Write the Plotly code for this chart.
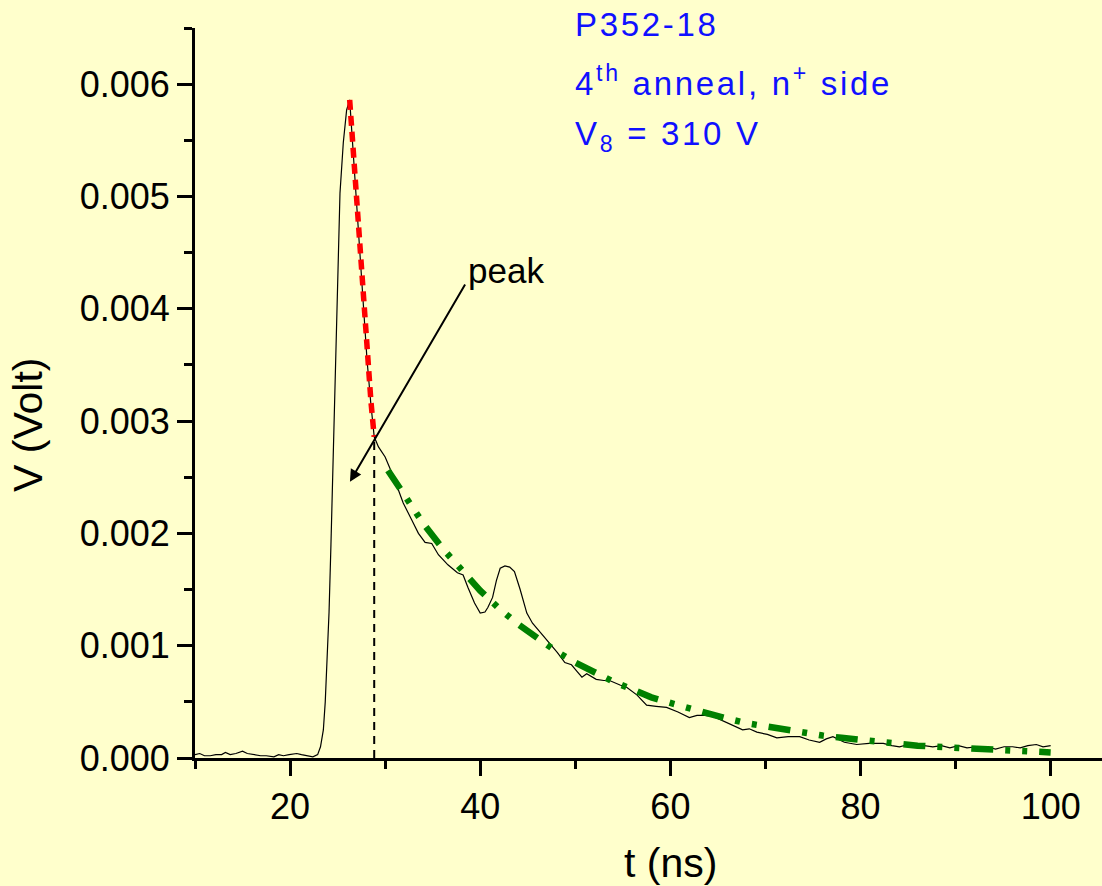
import plotly.graph_objects as go

# Measured signal (t in ns, V in Volt)
t_signal = [10.0, 10.5, 11.0, 11.6, 12.2, 12.8, 13.2, 13.7, 14.3, 15.0, 15.5, 16.2, 16.9, 17.5,
            18.3, 18.8, 19.3, 19.9, 20.7, 21.2, 21.7, 22.4, 22.9, 23.2, 23.5, 23.7, 23.9, 24.1,
            24.3, 24.48, 24.75, 25.0, 25.25, 25.6, 25.95, 26.27, 26.7, 27.1, 27.45, 27.8, 28.1,
            28.5, 28.85, 29.3, 30.0, 30.9, 31.9, 32.8, 33.5, 34.2, 34.9, 35.6, 36.6, 37.6, 38.2,
            38.7, 39.4, 40.0, 40.5, 40.8, 41.3, 41.7, 42.1, 42.6, 43.1, 43.6, 44.2, 44.9, 45.5,
            46.1, 46.7, 47.3, 48.1, 48.9, 49.6, 50.2, 50.7, 51.2, 52.2, 53.0, 53.6, 54.7, 55.4,
            56.5, 57.5, 58.5, 59.6, 60.8, 62.0, 62.8, 63.6, 64.5, 65.5, 66.5, 67.6, 68.3, 69.1,
            70.2, 71.2, 72.4, 73.6, 74.6, 75.7, 76.4, 77.1, 78.3, 79.6, 80.9, 82.4, 83.3, 84.1,
            85.0, 85.8, 86.7, 87.6, 88.5, 89.4, 90.3, 91.2, 92.2, 93.3, 94.2, 95.1, 96.0, 96.8,
            97.6, 98.5, 99.2, 100.0]
v_signal = [0.00003, 0.00004, 0.00002, 0.00002, 0.00003, 0.00003, 0.00005, 0.00003, 0.00004,
            0.00006, 0.00004, 0.00003, 0.00002, 0.00002, 0.00001, 0.00003, 0.00002, 0.00003,
            0.00004, 0.00003, 0.00002, 0.00001, 0.00003, 0.0001, 0.00025, 0.0005, 0.0009, 0.0013,
            0.0019, 0.00247, 0.00325, 0.00414, 0.00503, 0.00548, 0.00577, 0.00586, 0.00532,
            0.00487, 0.00443, 0.00398, 0.00354, 0.00315, 0.00286, 0.00277, 0.00268, 0.00250,
            0.00227, 0.00212, 0.00200, 0.00192, 0.00191, 0.00181, 0.00172, 0.00165, 0.00163,
            0.00152, 0.00138, 0.00129, 0.00130, 0.00134, 0.00143, 0.00158, 0.00169, 0.00171,
            0.00170, 0.00166, 0.00150, 0.00129, 0.00120, 0.00114, 0.00108, 0.00103, 0.00094,
            0.00085, 0.00083, 0.00077, 0.00072, 0.00075, 0.00070, 0.00069, 0.00069, 0.00065,
            0.00063, 0.00056, 0.00047, 0.00046, 0.00045, 0.00041, 0.00036, 0.00038, 0.00038,
            0.00037, 0.00033, 0.00029, 0.00025, 0.00026, 0.00023, 0.00021, 0.00018, 0.00019,
            0.00019, 0.00016, 0.00014, 0.00017, 0.00019, 0.00014, 0.00012, 0.00013, 0.00013,
            0.00011, 0.00010, 0.00012, 0.00010, 0.00011, 0.00010, 0.00011, 0.00009, 0.00011,
            0.00009, 0.00010, 0.00010, 0.00008, 0.00010, 0.00010, 0.00009, 0.00011, 0.00012,
            0.00010, 0.00011]

# Fast-component fit (red dashed)
t_fast = [26.27, 26.7, 27.1, 27.45, 27.8, 28.1, 28.5, 28.85]
v_fast = [0.00586, 0.00532, 0.00487, 0.00443, 0.00398, 0.00354, 0.00318, 0.00286]

# Slow-component fit (green dash-dot)
t_slow = [30.3, 32, 34, 36, 38, 40, 42, 44, 46, 48, 50, 52, 54, 56, 58, 60, 62, 64, 66, 68,
          70, 72, 74, 76, 78, 80, 82, 84, 86, 88, 90, 92, 94, 96, 98, 100]
v_slow = [0.00256, 0.00234, 0.00209, 0.00187, 0.00167, 0.00149, 0.00133, 0.00119, 0.00107,
          0.00095, 0.00085, 0.00076, 0.00068, 0.00061, 0.00054, 0.00049, 0.00044, 0.00039,
          0.00035, 0.00031, 0.00028, 0.00025, 0.00022, 0.00020, 0.00018, 0.00016, 0.00014,
          0.00013, 0.00011, 0.00010, 0.00009, 0.00008, 0.00007, 0.00007, 0.00006, 0.00005]

# Peak marker
peak_t = 28.85
peak_v = 0.00283

# Text labels
info_lines = ["P352-18", "4<sup>th</sup> anneal, n<sup>+</sup> side", "V<sub>8</sub> = 310 V"]
x_title = "t (ns)"
y_title = "V (Volt)"
arrow_label = "peak"

BG = "#FFFFCC"
BLUE = "#1010FF"
FONT = "Arial, 'Liberation Sans', sans-serif"

W, H = 1102, 886
ML, MR, MT, MB = 195, 0, 28, 128
pw, ph = W - ML - MR, H - MT - MB


def px_x(p):
    return (p - ML) / pw


def px_y(p):
    return (H - MB - p) / ph


fig = go.Figure()
fig.add_trace(go.Scatter(x=t_signal, y=v_signal, mode="lines",
                         line=dict(color="black", width=1.2), showlegend=False))
fig.add_trace(go.Scatter(x=[peak_t, peak_t], y=[0, peak_v], mode="lines",
                         line=dict(color="black", width=2, dash="8px,6px"), showlegend=False))
fig.add_trace(go.Scatter(x=t_fast, y=v_fast, mode="lines",
                         line=dict(color="#FF0000", width=5.5, dash="10px,6px"), showlegend=False))
fig.add_trace(go.Scatter(x=t_slow, y=v_slow, mode="lines",
                         line=dict(color="#008000", width=6.5, dash="22px,12px,5px,12px,5px,12px"),
                         showlegend=False))

axis_common = dict(showline=True, linecolor="black", linewidth=3, ticks="outside",
                   ticklen=15, tickwidth=3, tickcolor="black", showgrid=False, zeroline=False,
                   tickfont=dict(family=FONT, size=36, color="black"), automargin=False)

fig.update_xaxes(range=[10, 105.4], dtick=20, tick0=0,
                 minor=dict(dtick=10, tick0=0, ticks="outside", ticklen=8, tickwidth=3,
                            tickcolor="black"),
                 **axis_common)
fig.update_yaxes(range=[0, 0.0065], dtick=0.001, tick0=0, tickformat=".3f",
                 minor=dict(dtick=0.0005, tick0=0, ticks="outside", ticklen=8, tickwidth=3,
                            tickcolor="black"),
                 **axis_common)


def spaced(s, sp):
    return '<span style="letter-spacing:%spx">%s</span>' % (sp, s)


info_y_px = [24, 81, 136]
annotations = [
    # arrow to peak
    dict(x=26.3, y=0.00246, ax=38.5, ay=0.00423, xref="x", yref="y", axref="x", ayref="y",
         text="", showarrow=True, arrowhead=2, arrowsize=1.2, arrowwidth=2, arrowcolor="black"),
    dict(x=px_x(466), y=px_y(270), xref="paper", yref="paper", text=arrow_label,
         showarrow=False, xanchor="left", yanchor="middle",
         font=dict(family=FONT, size=35, color="black")),
    # axis titles
    dict(x=px_x(670), y=px_y(863), xref="paper", yref="paper", text=x_title, showarrow=False,
         xanchor="center", yanchor="middle", font=dict(family=FONT, size=41, color="black")),
    dict(x=px_x(28), y=px_y(425), xref="paper", yref="paper", text=y_title, showarrow=False,
         textangle=-90, xanchor="center", yanchor="middle",
         font=dict(family=FONT, size=41, color="black")),
]
for line, ypx in zip(info_lines, info_y_px):
    annotations.append(dict(x=px_x(573), y=px_y(ypx), xref="paper", yref="paper",
                            text=spaced(line, 2.7), showarrow=False, xanchor="left",
                            yanchor="middle", font=dict(family=FONT, size=33, color=BLUE)))

fig.update_layout(width=W, height=H, margin=dict(l=ML, r=MR, t=MT, b=MB),
                  paper_bgcolor=BG, plot_bgcolor=BG, annotations=annotations,
                  font=dict(family=FONT, color="black"), showlegend=False)

fig.write_html("out.html")
